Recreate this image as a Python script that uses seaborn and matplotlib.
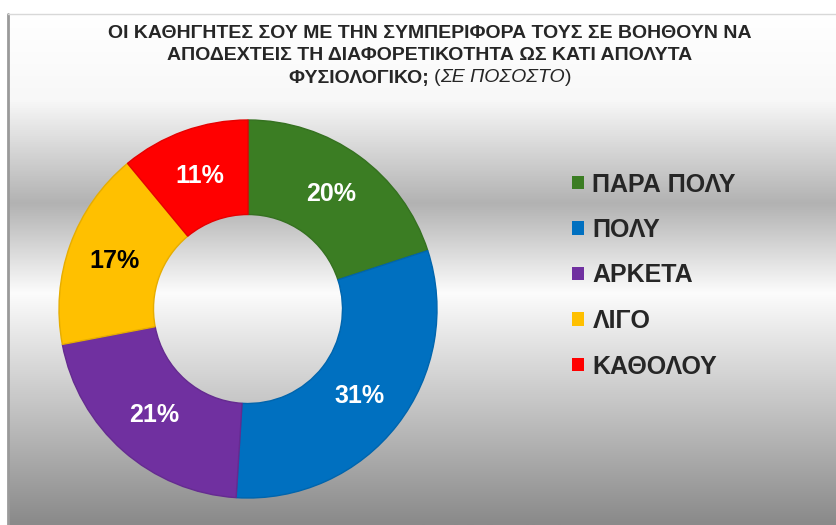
import numpy as np
import matplotlib
matplotlib.use("Agg")
import matplotlib.pyplot as plt
import seaborn as sns
from matplotlib.colors import LinearSegmentedColormap
from matplotlib.patches import Patch

sns.set_theme(style="white")
plt.rcParams['font.family'] = ['Liberation Sans', 'DejaVu Sans']

categories = ["ΠΑΡΑ ΠΟΛΥ", "ΠΟΛΥ", "ΑΡΚΕΤΑ", "ΛΙΓΟ", "ΚΑΘΟΛΟΥ"]
values = [20, 31, 21, 17, 11]
colors = ["#3b7d23", "#0070c0", "#7030a0", "#ffc000", "#ff0000"]
label_colors = ["white", "white", "white", "black", "white"]

W, H = 837, 525
fig = plt.figure(figsize=(W / 100, H / 100), dpi=100)
fig.patch.set_facecolor("white")

# background panel gradient
px0, py0 = 8, 14
bg = fig.add_axes([px0 / W, 0, 1 - px0 / W, (H - py0) / H])
stops = [(0.0, "#ffffff"), (85 / 511, "#f8f8f8"), (189 / 511, "#b2b2b2"),
         (279 / 511, "#fcfcfc"), (340 / 511, "#dedede"), (1.0, "#8a8a8a")]
cmap = LinearSegmentedColormap.from_list("bg", stops)
grad = np.linspace(0, 1, 512).reshape(-1, 1)
bg.imshow(grad, aspect="auto", cmap=cmap, extent=[0, 1, 1, 0], vmin=0, vmax=1)
bg.set_axis_off()
# panel edges
fig.add_artist(plt.Line2D([px0 / W, px0 / W], [0, (H - py0) / H], color="#9a9a9a", lw=2.0))
fig.add_artist(plt.Line2D([px0 / W, 1], [(H - py0) / H, (H - py0) / H], color="#d8d8d8", lw=1.0))

# donut
cx, cy, r = 248, 309, 189
ax = fig.add_axes([(cx - r) / W, (H - cy - r) / H, 2 * r / W, 2 * r / H])
ax.set_axis_off()
ax.patch.set_alpha(0)
wedges, texts, autotexts = ax.pie(
    values, colors=colors, startangle=90, counterclock=False,
    radius=1.0, wedgeprops=dict(width=0.5, linewidth=0),
    autopct=lambda p: f"{p:.0f}%", pctdistance=0.75,
)
for w in wedges:
    fc = w.get_facecolor()
    w.set_edgecolor(tuple(max(0, c * 0.9) for c in fc[:3]))
    w.set_linewidth(1.0)
for t, c in zip(autotexts, label_colors):
    t.set_color(c)
    t.set_fontsize(18)
    t.set_fontweight("bold")
ax.set_xlim(-1, 1)
ax.set_ylim(-1, 1)

# title
tfam = ['Liberation Sans', 'DejaVu Sans']
ts = 14
fig.text(430 / W, 1 - 33 / H, "ΟΙ ΚΑΘΗΓΗΤΕΣ ΣΟΥ ΜΕ ΤΗΝ ΣΥΜΠΕΡΙΦΟΡΑ ΤΟΥΣ ΣΕ ΒΟΗΘΟΥΝ ΝΑ",
         ha="center", va="center", fontsize=ts, fontweight="bold", family=tfam)
fig.text(430 / W, 1 - 56 / H, "ΑΠΟΔΕΧΤΕΙΣ ΤΗ ΔΙΑΦΟΡΕΤΙΚΟΤΗΤΑ ΩΣ ΚΑΤΙ ΑΠΟΛΥΤΑ",
         ha="center", va="center", fontsize=ts, fontweight="bold", family=tfam)
t1 = fig.text(0, 1 - 78 / H, "ΦΥΣΙΟΛΟΓΙΚΟ; ", ha="left", va="center",
              fontsize=ts, fontweight="bold", family=tfam)
t2 = fig.text(0, 1 - 78 / H, "(", ha="left", va="center", fontsize=ts, family=tfam)
t3 = fig.text(0, 1 - 78 / H, "ΣΕ ΠΟΣΟΣΤΟ", ha="left", va="center", fontsize=ts,
              style="italic", family=tfam)
t4 = fig.text(0, 1 - 78 / H, ")", ha="left", va="center", fontsize=ts, family=tfam)
fig.canvas.draw()
rend = fig.canvas.get_renderer()
parts = [t1, t2, t3, t4]
widths = [p.get_window_extent(rend).width for p in parts]
x = 430 - sum(widths) / 2
for p, w in zip(parts, widths):
    p.set_x(x / W)
    x += w

# legend
handles = [Patch(facecolor=c, edgecolor="none") for c in colors]
leg = fig.legend(handles, categories, loc="upper left",
                 bbox_to_anchor=(550 / W, 1 - 150 / H), frameon=False,
                 prop=dict(size=18, weight="bold"), handlelength=0.45,
                 handleheight=0.45, handletextpad=0.35, labelspacing=0.86)

fig.savefig("out.png", dpi=100)
